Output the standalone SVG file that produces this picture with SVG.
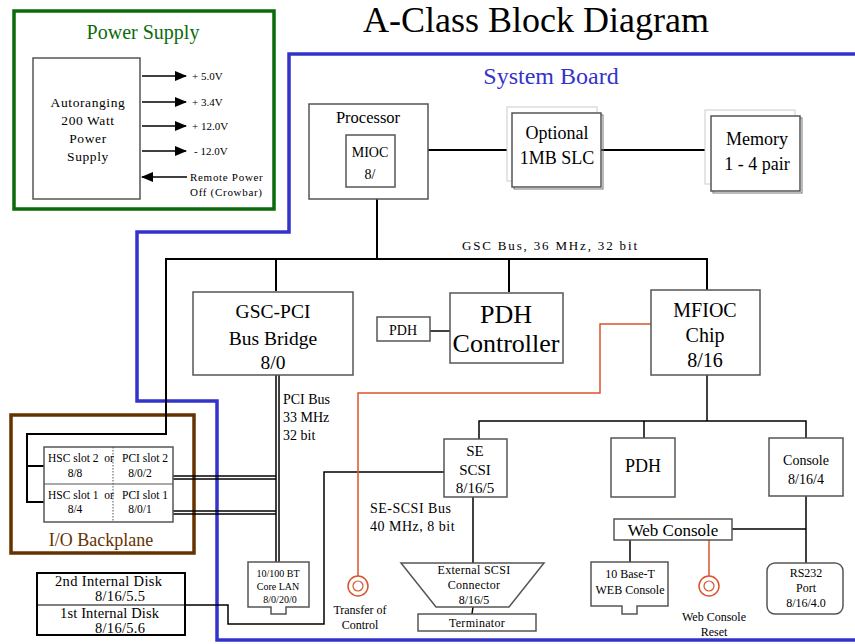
<svg xmlns="http://www.w3.org/2000/svg" width="855" height="644" viewBox="0 0 855 644" font-family="'Liberation Serif', 'DejaVu Serif', serif">
<defs>
<marker id="ah" markerWidth="12" markerHeight="10" refX="11" refY="5" orient="auto" markerUnits="userSpaceOnUse"><path d="M0,0 L12,5 L0,10 Z" fill="#000"/></marker>
</defs>
<style>
text{font-family:'Liberation Serif','DejaVu Serif',serif;fill:#000}
.c{text-anchor:middle}
.box{fill:#fff;stroke:#555;stroke-width:1.5}
.ghost{fill:#fff;stroke:#ccc;stroke-width:1}
.shadow{fill:none;stroke:#777;stroke-width:1}
.ln{fill:none;stroke:#000;stroke-width:1.5}
.bus{fill:none;stroke:#000;stroke-width:2}
.red{fill:none;stroke:#d9532c;stroke-width:1.5}
.green{fill:#0b6b0b}
.blue{fill:#3333cc}
.brown{fill:#663300}
</style>
<rect width="855" height="644" fill="#fff"/>
<text x="536" y="32" class="c" font-size="36">A-Class Block Diagram</text>

<g id="power-supply">
<rect x="14" y="11" width="260" height="198" fill="none" stroke="#0b6b0b" stroke-width="3.5"/>
<text x="143" y="39" class="c green" font-size="20">Power Supply</text>
<rect x="33" y="58" width="107" height="141" class="box"/>
<text x="88" y="107" class="c" font-size="13.5" letter-spacing="0.6">Autoranging</text>
<text x="88" y="125" class="c" font-size="13.5" letter-spacing="0.6">200 Watt</text>
<text x="88" y="143" class="c" font-size="13.5" letter-spacing="0.6">Power</text>
<text x="88" y="161" class="c" font-size="13.5" letter-spacing="0.6">Supply</text>
<line x1="142" y1="76" x2="186" y2="76" class="ln" marker-end="url(#ah)"/>
<line x1="142" y1="102" x2="186" y2="102" class="ln" marker-end="url(#ah)"/>
<line x1="142" y1="126" x2="186" y2="126" class="ln" marker-end="url(#ah)"/>
<line x1="142" y1="151" x2="186" y2="151" class="ln" marker-end="url(#ah)"/>
<line x1="187" y1="177" x2="142" y2="177" class="ln" marker-end="url(#ah)"/>
<text x="192" y="80" font-size="11">+ 5.0V</text>
<text x="192" y="106" font-size="11">+ 3.4V</text>
<text x="192" y="130" font-size="11">+ 12.0V</text>
<text x="194" y="155" font-size="11">- 12.0V</text>
<text x="190" y="181" font-size="11" letter-spacing="0.7">Remote Power</text>
<text x="190" y="196" font-size="11" letter-spacing="0.7">Off (Crowbar)</text>
</g>

<g id="system-board">
<path d="M855,54 H289 V232 H137 V401 H217 V640 H855" fill="none" stroke="#3333cc" stroke-width="3.5"/>
<text x="551" y="84" class="c blue" font-size="24">System Board</text>
</g>

<g id="io-backplane">
<rect x="11" y="415" width="183" height="138" fill="none" stroke="#663300" stroke-width="3.5"/>
<text x="101" y="546" class="c brown" font-size="18">I/O Backplane</text>
</g>

<g id="connectors">
<line x1="428" y1="150" x2="512" y2="150" class="bus"/>
<line x1="601" y1="150" x2="710" y2="150" class="bus"/>
<line x1="377" y1="199" x2="377" y2="259" class="bus"/>
<polyline points="276,291 276,259 707,259 707,290" class="bus"/>
<line x1="509" y1="259" x2="509" y2="292" class="bus"/>
<polyline points="276,259 166,259 166,434 27,434 27,502 44,502" class="bus"/>
<line x1="27" y1="466" x2="44" y2="466" class="bus"/>
<line x1="430" y1="331" x2="450" y2="331" class="ln"/>
<line x1="707" y1="375" x2="707" y2="421" class="ln"/>
<polyline points="479,439 479,421 806,421 806,438" class="ln"/>
<line x1="644" y1="421" x2="644" y2="438" class="ln"/>
<line x1="276" y1="375" x2="276" y2="562" class="ln" stroke-width="1"/>
<line x1="279" y1="375" x2="279" y2="562" class="ln" stroke-width="1"/>
<line x1="173" y1="476" x2="276" y2="476" class="ln" stroke-width="1"/>
<line x1="173" y1="479" x2="276" y2="479" class="ln" stroke-width="1"/>
<line x1="173" y1="511" x2="276" y2="511" class="ln" stroke-width="1"/>
<line x1="173" y1="514" x2="276" y2="514" class="ln" stroke-width="1"/>
<polyline points="444,472 324,472 324,624 228,624 228,605 185,605" class="ln" stroke-width="1.2"/>
<line x1="473" y1="497" x2="473" y2="563" class="ln" stroke="#444"/>
<line x1="473" y1="607" x2="472" y2="614" class="ln" stroke-width="1"/>
<line x1="806" y1="496" x2="806" y2="563" class="ln"/>
<line x1="732" y1="529" x2="806" y2="529" class="ln"/>
<line x1="630" y1="540" x2="630" y2="562" class="ln"/>
<polyline points="651,324 600,324 600,393 358,393 358,576" class="red"/>
<line x1="709" y1="540" x2="709" y2="576" class="red"/>
</g>

<g id="processor">
<rect x="309" y="104" width="119" height="95" class="box"/>
<text x="368" y="123" class="c" font-size="16.5">Processor</text>
</g>
<g id="mioc">
<rect x="346" y="135" width="49" height="52" class="box"/>
<text x="370" y="157" class="c" font-size="14">MIOC</text>
<text x="370" y="179" class="c" font-size="14">8/</text>
</g>
<g id="optional-slc">
<rect x="507" y="107" width="90" height="74" class="ghost"/>
<rect x="514" y="115" width="89" height="74" class="shadow"/>
<rect x="512" y="113" width="89" height="74" class="box"/>
<text x="557" y="139" class="c" font-size="18">Optional</text>
<text x="557" y="164" class="c" font-size="18">1MB SLC</text>
</g>
<g id="memory">
<rect x="705" y="110" width="90" height="74" class="ghost"/>
<rect x="713" y="118" width="89" height="75" class="shadow"/>
<rect x="711" y="116" width="89" height="75" class="box"/>
<text x="757" y="145" class="c" font-size="18">Memory</text>
<text x="757" y="170" class="c" font-size="18">1 - 4 pair</text>
</g>
<text x="462" y="250" font-size="13" textLength="175" lengthAdjust="spacing">GSC Bus, 36 MHz, 32 bit</text>

<g id="gsc-pci">
<rect x="193" y="292" width="160" height="83" class="box"/>
<text x="273" y="318" class="c" font-size="19.5">GSC-PCI</text>
<text x="273" y="345" class="c" font-size="19.5">Bus Bridge</text>
<text x="273" y="369" class="c" font-size="19.5">8/0</text>
</g>
<g id="pdh-small">
<rect x="377" y="317" width="53" height="24" class="box"/>
<text x="403" y="335" class="c" font-size="14">PDH</text>
</g>
<g id="pdh-controller">
<rect x="450" y="293" width="113" height="70" class="box"/>
<text x="506" y="323" class="c" font-size="26">PDH</text>
<text x="506" y="352" class="c" font-size="26">Controller</text>
</g>
<g id="mfioc">
<rect x="651" y="290" width="109" height="85" class="box"/>
<text x="705" y="317" class="c" font-size="20">MFIOC</text>
<text x="705" y="342" class="c" font-size="20">Chip</text>
<text x="705" y="367" class="c" font-size="20">8/16</text>
</g>
<text x="283" y="404" font-size="14">PCI Bus</text>
<text x="283" y="422" font-size="14">33 MHz</text>
<text x="283" y="440" font-size="14">32 bit</text>

<g id="slots">
<rect x="44" y="447" width="129" height="75" class="box"/>
<line x1="44" y1="484" x2="173" y2="484" stroke="#555" stroke-width="1.2"/>
<line x1="113" y1="447" x2="113" y2="522" stroke="#555" stroke-width="1" stroke-dasharray="1.5,1.5"/>
<text x="48" y="462" font-size="11.5">HSC slot 2</text>
<text x="109" y="462" class="c" font-size="11.5">or</text>
<text x="122" y="462" font-size="11.5">PCI slot 2</text>
<text x="75" y="477" class="c" font-size="11.5">8/8</text>
<text x="140" y="477" class="c" font-size="11.5">8/0/2</text>
<text x="48" y="499" font-size="11.5">HSC slot 1</text>
<text x="109" y="499" class="c" font-size="11.5">or</text>
<text x="122" y="499" font-size="11.5">PCI slot 1</text>
<text x="75" y="513" class="c" font-size="11.5">8/4</text>
<text x="140" y="513" class="c" font-size="11.5">8/0/1</text>
</g>

<g id="disks">
<rect x="37" y="573" width="148" height="62" fill="#fff" stroke="#000" stroke-width="2"/>
<line x1="37" y1="605" x2="185" y2="605" stroke="#000" stroke-width="1.2"/>
<text x="55" y="586" font-size="14.5" textLength="107" lengthAdjust="spacing">2nd Internal Disk</text>
<text x="95" y="601" font-size="14.5" textLength="50" lengthAdjust="spacing">8/16/5.5</text>
<text x="60" y="618" font-size="14.5" textLength="99" lengthAdjust="spacing">1st Internal Disk</text>
<text x="95" y="633" font-size="14.5" textLength="50" lengthAdjust="spacing">8/16/5.6</text>
</g>

<g id="lan">
<path d="M248,562 H309 V607 H286 V614 H271 V607 H248 Z" class="box"/>
<text x="278" y="577" class="c" font-size="10">10/100 BT</text>
<text x="278" y="590" class="c" font-size="10">Core LAN</text>
<text x="280" y="603" class="c" font-size="10">8/0/20/0</text>
</g>

<g id="toc">
<circle cx="358" cy="586" r="10" fill="#fff" stroke="#d9532c" stroke-width="1.5"/>
<circle cx="358" cy="586" r="5" fill="none" stroke="#d9532c" stroke-width="1.2"/>
<text x="360" y="614" class="c" font-size="12">Transfer of</text>
<text x="360" y="629" class="c" font-size="12">Control</text>
</g>

<g id="se-scsi">
<rect x="444" y="439" width="63" height="58" class="box"/>
<text x="475" y="456" class="c" font-size="15">SE</text>
<text x="475" y="475" class="c" font-size="15">SCSI</text>
<text x="475" y="493" class="c" font-size="15">8/16/5</text>
</g>
<text x="370" y="513" font-size="14" letter-spacing="0.5">SE-SCSI Bus</text>
<text x="370" y="531" font-size="14" letter-spacing="0.5">40 MHz, 8 bit</text>

<g id="ext-scsi">
<path d="M401,563 H544 L509,607 H436 Z" class="box"/>
<text x="474" y="574" class="c" font-size="12" letter-spacing="0.3">External SCSI</text>
<text x="474" y="589" class="c" font-size="12" letter-spacing="0.3">Connector</text>
<text x="474" y="604" class="c" font-size="12">8/16/5</text>
</g>
<g id="terminator">
<rect x="418" y="614" width="118" height="17" class="box"/>
<text x="477" y="627" class="c" font-size="12" letter-spacing="0.3">Terminator</text>
</g>

<g id="pdh">
<rect x="611" y="438" width="64" height="59" class="box"/>
<text x="643" y="472" class="c" font-size="18">PDH</text>
</g>
<g id="console">
<rect x="769" y="438" width="74" height="58" class="box"/>
<text x="806" y="465" class="c" font-size="14">Console</text>
<text x="806" y="484" class="c" font-size="14">8/16/4</text>
</g>
<g id="web-console">
<rect x="614" y="519" width="118" height="21" class="box"/>
<text x="673" y="536" class="c" font-size="17">Web Console</text>
</g>
<g id="base-t">
<path d="M591,562 H668 V606 H637 V614 H622 V606 H591 Z" class="box"/>
<text x="630" y="578" class="c" font-size="12">10 Base-T</text>
<text x="630" y="594" class="c" font-size="12">WEB Console</text>
</g>
<g id="wc-reset">
<circle cx="709" cy="586" r="10" fill="#fff" stroke="#d9532c" stroke-width="1.5"/>
<circle cx="709" cy="586" r="5" fill="none" stroke="#d9532c" stroke-width="1.2"/>
<text x="714" y="621" class="c" font-size="12">Web Console</text>
<text x="714" y="636" class="c" font-size="12">Reset</text>
</g>
<g id="rs232">
<rect x="767" y="563" width="76" height="51" rx="8" class="box"/>
<text x="806" y="577" class="c" font-size="12">RS232</text>
<text x="806" y="592" class="c" font-size="12">Port</text>
<text x="806" y="607" class="c" font-size="12">8/16/4.0</text>
</g>
</svg>
